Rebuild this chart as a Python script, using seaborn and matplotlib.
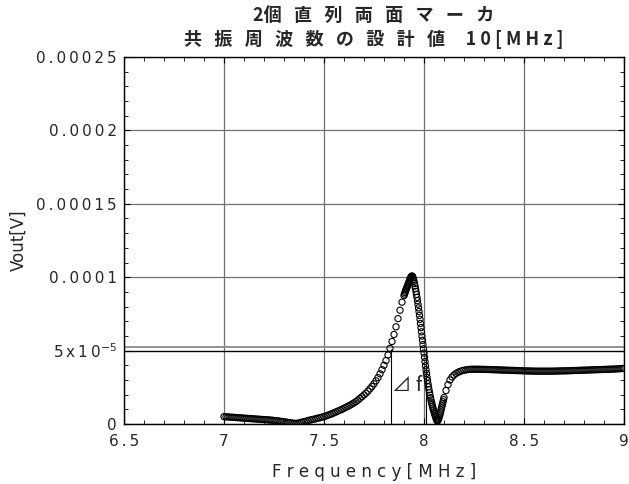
import numpy as np
import pandas as pd
import matplotlib
matplotlib.use("Agg")
import matplotlib.pyplot as plt
import seaborn as sns
from matplotlib.ticker import MultipleLocator

# ---------------- data (Vout in units of 1e-5 V) ----------------
freq_a = [7.00, 7.01, 7.02, 7.03, 7.04, 7.05, 7.06, 7.07, 7.08, 7.09,
          7.10, 7.11, 7.12, 7.13, 7.14, 7.15, 7.16, 7.17, 7.18, 7.19,
          7.20, 7.21, 7.22, 7.23, 7.24, 7.25, 7.26, 7.27, 7.28, 7.29,
          7.30, 7.31, 7.32, 7.33, 7.34, 7.35, 7.36, 7.37, 7.38, 7.39,
          7.40, 7.41, 7.42, 7.43, 7.44, 7.45, 7.46, 7.47, 7.48, 7.49,
          7.50, 7.51, 7.52, 7.53, 7.54, 7.55, 7.56, 7.57, 7.58, 7.59,
          7.60, 7.61, 7.62, 7.63, 7.64, 7.65, 7.66, 7.67, 7.68, 7.69,
          7.70, 7.71, 7.72, 7.73, 7.74, 7.75, 7.76, 7.77, 7.78, 7.79,
          7.80, 7.81, 7.82, 7.83, 7.84, 7.85, 7.86, 7.87, 7.88, 7.89]
vout_a = [0.50, 0.49, 0.48, 0.47, 0.46, 0.45, 0.44, 0.43, 0.42, 0.41,
          0.40, 0.39, 0.38, 0.37, 0.36, 0.35, 0.34, 0.33, 0.32, 0.31,
          0.30, 0.29, 0.28, 0.27, 0.26, 0.24, 0.23, 0.21, 0.19, 0.17,
          0.15, 0.13, 0.11, 0.09, 0.07, 0.05, 0.04, 0.06, 0.09, 0.13,
          0.16, 0.19, 0.23, 0.27, 0.30, 0.33, 0.36, 0.40, 0.43, 0.47,
          0.50, 0.55, 0.60, 0.65, 0.70, 0.76, 0.82, 0.88, 0.94, 1.00,
          1.07, 1.14, 1.21, 1.28, 1.36, 1.44, 1.53, 1.63, 1.75, 1.86,
          1.98, 2.10, 2.24, 2.40, 2.56, 2.74, 2.94, 3.16, 3.42, 3.70,
          4.00, 4.32, 4.70, 5.15, 5.62, 6.10, 6.62, 7.18, 7.75, 8.30]

freq_b = [7.9000, 7.9025, 7.9050, 7.9075, 7.9100, 7.9125, 7.9150, 7.9175, 7.9200, 7.9225,
          7.9250, 7.9275, 7.9300, 7.9325, 7.9350, 7.9375, 7.9400, 7.9425, 7.9450, 7.9475,
          7.9500, 7.9525, 7.9550, 7.9575, 7.9600, 7.9625, 7.9650, 7.9675, 7.9700, 7.9725,
          7.9750, 7.9775, 7.9800, 7.9825, 7.9850, 7.9875, 7.9900, 7.9925, 7.9950, 7.9975,
          8.0000, 8.0025, 8.0050, 8.0075, 8.0100, 8.0125, 8.0150, 8.0175, 8.0200, 8.0225,
          8.0250, 8.0275, 8.0300, 8.0325, 8.0350, 8.0375, 8.0400, 8.0425, 8.0450, 8.0475,
          8.0500, 8.0525, 8.0550, 8.0575, 8.0600, 8.0625, 8.0650, 8.0675, 8.0700, 8.0725,
          8.0750, 8.0775, 8.0800, 8.0825, 8.0850, 8.0875, 8.0900, 8.0925, 8.0950, 8.0975]
vout_b = [8.75, 8.85, 8.95, 9.05, 9.14, 9.23, 9.32, 9.41, 9.50, 9.59,
          9.68, 9.77, 9.86, 9.94, 10.01, 10.06, 10.08, 10.05, 9.97, 9.86,
          9.72, 9.57, 9.40, 9.22, 9.03, 8.83, 8.62, 8.40, 8.16, 7.91,
          7.66, 7.40, 7.13, 6.85, 6.57, 6.28, 5.99, 5.70, 5.41, 5.12,
          4.83, 4.54, 4.25, 3.97, 3.70, 3.44, 3.19, 2.96, 2.74, 2.53,
          2.33, 2.14, 1.96, 1.79, 1.63, 1.48, 1.34, 1.20, 1.07, 0.95,
          0.83, 0.72, 0.61, 0.50, 0.40, 0.30, 0.22, 0.20, 0.24, 0.32,
          0.42, 0.54, 0.67, 0.81, 0.95, 1.09, 1.23, 1.37, 1.51, 1.65]

freq_c = [8.10, 8.11, 8.12, 8.13, 8.14, 8.15, 8.16, 8.17, 8.18, 8.19,
          8.20, 8.21, 8.22, 8.23, 8.24, 8.25, 8.26, 8.27, 8.28, 8.29,
          8.30, 8.31, 8.32, 8.33, 8.34, 8.35, 8.36, 8.37, 8.38, 8.39,
          8.40, 8.41, 8.42, 8.43, 8.44, 8.45, 8.46, 8.47, 8.48, 8.49,
          8.50, 8.51, 8.52, 8.53, 8.54, 8.55, 8.56, 8.57, 8.58, 8.59,
          8.60, 8.61, 8.62, 8.63, 8.64, 8.65, 8.66, 8.67, 8.68, 8.69,
          8.70, 8.71, 8.72, 8.73, 8.74, 8.75, 8.76, 8.77, 8.78, 8.79,
          8.80, 8.81, 8.82, 8.83, 8.84, 8.85, 8.86, 8.87, 8.88, 8.89,
          8.90, 8.91, 8.92, 8.93, 8.94, 8.95, 8.96, 8.97, 8.98, 8.99,
          9.00]
vout_c = [1.80, 2.28, 2.68, 3.00, 3.20, 3.34, 3.44, 3.52, 3.58, 3.63,
          3.66, 3.69, 3.71, 3.72, 3.73, 3.73, 3.73, 3.73, 3.73, 3.72,
          3.72, 3.72, 3.71, 3.71, 3.70, 3.70, 3.69, 3.69, 3.68, 3.68,
          3.67, 3.67, 3.66, 3.66, 3.65, 3.65, 3.64, 3.64, 3.63, 3.63,
          3.62, 3.62, 3.61, 3.61, 3.61, 3.60, 3.60, 3.60, 3.60, 3.60,
          3.60, 3.60, 3.60, 3.60, 3.60, 3.60, 3.61, 3.61, 3.61, 3.62,
          3.62, 3.62, 3.63, 3.63, 3.64, 3.64, 3.65, 3.65, 3.66, 3.66,
          3.67, 3.67, 3.68, 3.68, 3.69, 3.69, 3.70, 3.70, 3.71, 3.71,
          3.72, 3.72, 3.73, 3.73, 3.74, 3.74, 3.75, 3.76, 3.77, 3.78,
          3.79]

x_ticks = [6.5, 7.0, 7.5, 8.0, 8.5, 9.0]
x_tick_labels = ["6.5", "7", "7.5", "8", "8.5", "9"]
y_ticks = [0.0, 5e-5, 1e-4, 1.5e-4, 2e-4, 2.5e-4]
y_tick_labels = ["0", "5x10", "0.0001", "0.00015", "0.0002", "0.00025"]

ref_level_black = 5.0e-5     # horizontal reference line (black)
ref_level_gray = 5.24e-5     # horizontal reference line (gray)
df_left, df_right = 7.835, 8.012   # Δf markers
df_top = 5.1e-5

title_line1 = "2個直列両面マーカ"
title_line2 = "共振周波数の設計値"
title_unit = "10[MHz]"

# ---------------- build ----------------
freq = freq_a + freq_b + freq_c
vout = np.array(vout_a + vout_b + vout_c) * 1e-5
df = pd.DataFrame({"freq": freq, "vout": vout})

sns.set_style("ticks")
plt.rcParams["font.family"] = ["DejaVu Sans"]

fig = plt.figure(figsize=(6.29, 4.84), dpi=100)
ax = fig.add_axes([124 / 629, 1 - 424 / 484, 500 / 629, 367 / 484])

THIN = "\u2009"

def sp(s, sep=" "):
    return sep.join(list(s))

ax.grid(True, which="major", color="#707070", lw=0.9, zorder=0)
ax.axhline(ref_level_gray, color="#8a8a8a", lw=1.3, zorder=1)
ax.axhline(ref_level_black, color="black", lw=0.9, zorder=1)
ax.vlines([df_left, df_right], 0, df_top, color="black", lw=0.8, zorder=2)

sns.scatterplot(data=df, x="freq", y="vout", ax=ax, marker="o", s=20,
                facecolors="none", edgecolor="black", linewidth=0.8,
                zorder=3, legend=False)

ax.text(df_left + 0.004, 2.6e-5, "⊿ f", fontsize=14,
        family=["Noto Sans CJK JP", "DejaVu Sans"], va="center", ha="left")

ax.set_xlim(6.5, 9.0)
ax.set_ylim(0, 2.5e-4)
ax.set_xticks(x_ticks)
ax.set_xticklabels([sp(t, THIN) for t in x_tick_labels], fontsize=11)
ylabels = []
for t in y_tick_labels:
    if t == "5x10":
        ylabels.append(sp(t, THIN) + r"$^{-5}$")
    else:
        ylabels.append(sp(t, THIN))
ax.set_yticks(y_ticks)
ax.set_yticklabels(ylabels, fontsize=11)
ax.xaxis.set_minor_locator(MultipleLocator(0.1))
ax.yaxis.set_minor_locator(MultipleLocator(1e-5))
ax.tick_params(which="both", direction="in", top=True, right=True, color="black")
ax.tick_params(which="major", length=4, width=0.8)
ax.tick_params(axis="y", which="major", pad=5)
ax.tick_params(axis="x", which="major", pad=7)
ax.tick_params(which="minor", length=3, width=0.6)
for s in ax.spines.values():
    s.set_color("black")
    s.set_linewidth(1.0)

ax.set_xlabel(sp("Frequency[MHz]"), fontsize=12)
ax.xaxis.set_label_coords(0.5, -0.105)
ax.set_ylabel("Vout[V]", fontsize=12)
ax.yaxis.set_label_coords(-0.192, 0.5)

cjk = ["Noto Sans CJK JP", "DejaVu Sans"]
cx = (124 + 624) / 2 / 629
fig.text(cx, 1 - 15 / 484, title_line1[:2] + "   " + "   ".join(list(title_line1[2:])),
         ha="center", va="center", fontsize=13, fontweight="bold", family=cjk)
fig.text(cx, 1 - 39 / 484, "   ".join(list(title_line2)) + "     " + sp(title_unit),
         ha="center", va="center", fontsize=13, fontweight="bold", family=cjk)

fig.savefig("out.png", dpi=100)
